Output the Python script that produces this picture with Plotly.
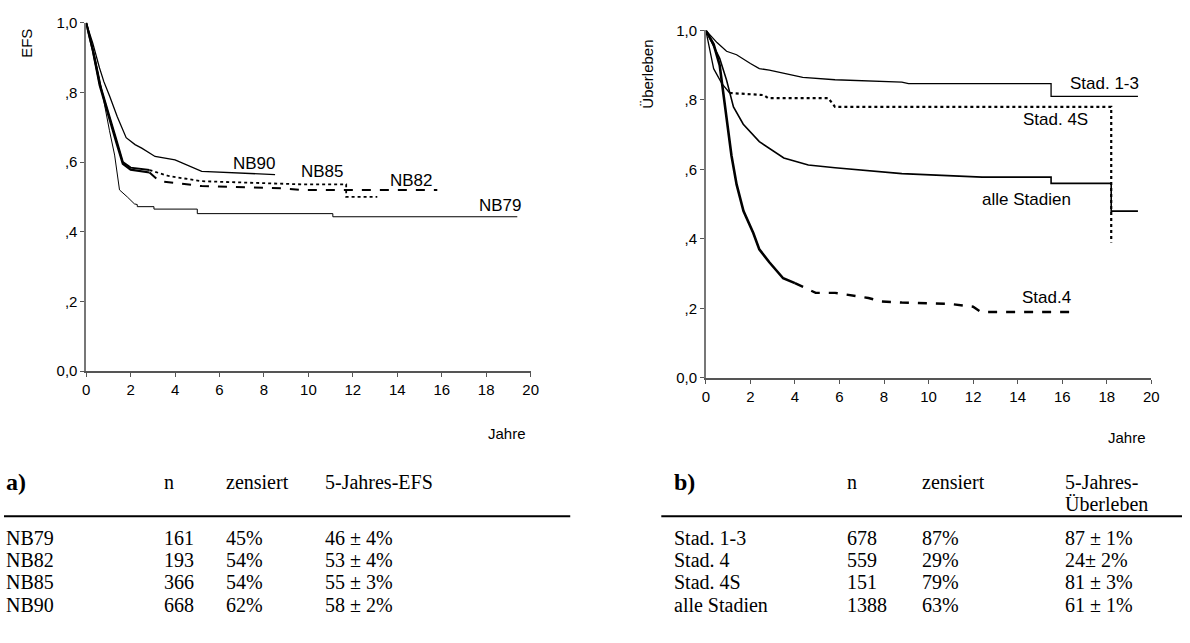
import plotly.graph_objects as go

W, H = 1190, 643

# ---- (a) event-free survival by trial ----
nb79_t = [0, 0.2, 0.4, 0.6, 0.83, 1.05, 1.28, 1.5, 1.85, 2.17, 2.3, 2.3, 3.05, 3.05, 5.0, 5.0, 11.1, 11.1, 19.4]
nb79_s = [1.0, 0.95, 0.9, 0.84, 0.76, 0.69, 0.62, 0.52, 0.50, 0.48, 0.478, 0.472, 0.472, 0.465, 0.465, 0.452, 0.452, 0.443, 0.443]

nb82_t = [0, 0.3, 0.61, 0.9, 1.34, 1.65, 2.0, 2.85, 3.3, 5.2, 8.8, 9.7, 15.8]
nb82_s = [1.0, 0.92, 0.82, 0.755, 0.66, 0.595, 0.578, 0.57, 0.545, 0.531, 0.525, 0.52, 0.52]

nb85_t = [0, 0.3, 0.61, 0.9, 1.34, 1.65, 2.0, 2.85, 3.7, 5.2, 9.7, 11.7, 11.7, 13.1]
nb85_s = [1.0, 0.92, 0.825, 0.76, 0.668, 0.60, 0.584, 0.577, 0.56, 0.545, 0.536, 0.536, 0.50, 0.50]

nb90_t = [0, 0.3, 0.6, 0.8, 1.05, 1.4, 1.8, 2.2, 2.5, 3.1, 4.0, 4.9, 5.2, 8.5]
nb90_s = [1.0, 0.94, 0.87, 0.83, 0.79, 0.73, 0.67, 0.65, 0.64, 0.616, 0.606, 0.58, 0.573, 0.564]

# ---- (b) overall survival by stage ----
st13_t = [0, 0.5, 0.93, 1.38, 2.0, 2.4, 2.85, 3.6, 4.35, 5.8, 8.8, 9.1, 15.5, 15.5, 19.4]
st13_s = [1.0, 0.965, 0.94, 0.93, 0.905, 0.89, 0.886, 0.875, 0.865, 0.858, 0.851, 0.847, 0.847, 0.81, 0.81]

st4s_t = [0, 0.15, 0.35, 0.72, 1.07, 2.6, 2.8, 5.5, 5.8, 18.2, 18.2]
st4s_s = [1.0, 0.95, 0.89, 0.847, 0.82, 0.814, 0.805, 0.805, 0.78, 0.78, 0.39]

alle_t = [0, 0.62, 0.93, 1.24, 1.68, 2.4, 3.5, 4.6, 5.8, 7.3, 8.8, 12.4, 15.5, 15.5, 18.2, 18.2, 19.4]
alle_s = [1.0, 0.92, 0.857, 0.78, 0.73, 0.68, 0.633, 0.613, 0.605, 0.597, 0.588, 0.578, 0.578, 0.56, 0.56, 0.48, 0.48]

st4_t = [0, 0.35, 0.62, 0.85, 1.15, 1.38, 1.69, 2.13, 2.4, 2.85, 3.47, 4.0, 4.93, 5.8, 7.3, 7.9, 8.8, 11.0, 12.0, 12.35, 16.4]
st4_s = [1.0, 0.96, 0.9, 0.78, 0.64, 0.557, 0.48, 0.417, 0.37, 0.333, 0.287, 0.273, 0.245, 0.245, 0.23, 0.22, 0.217, 0.213, 0.205, 0.19, 0.19]

# axis ticks
x_ticks = [0, 2, 4, 6, 8, 10, 12, 14, 16, 18, 20]
y_ticks = [0.0, 0.2, 0.4, 0.6, 0.8, 1.0]
y_ticktext = ["0,0", ",2", ",4", ",6", ",8", "1,0"]

# tables
tab_a_header = ["a)", "n", "zensiert", "5-Jahres-EFS"]
tab_a_names = ["NB79", "NB82", "NB85", "NB90"]
tab_a_n = ["161", "193", "366", "668"]
tab_a_cens = ["45%", "54%", "54%", "62%"]
tab_a_efs = ["46 ± 4%", "53 ± 4%", "55 ± 3%", "58 ± 2%"]

tab_b_header = ["b)", "n", "zensiert", "5-Jahres-"]
tab_b_header2 = "Überleben"
tab_b_names = ["Stad. 1-3", "Stad. 4", "Stad. 4S", "alle Stadien"]
tab_b_n = ["678", "559", "151", "1388"]
tab_b_cens = ["87%", "29%", "79%", "63%"]
tab_b_os = ["87 ± 1%", "24± 2%", "81 ± 3%", "61 ± 1%"]

SANS = "Liberation Sans, Arial, sans-serif"
SERIF = "Liberation Serif, Times New Roman, serif"
TAB_SIZE = 20


def px(x):
    return x / W


def py(y):
    return 1 - y / H


fig = go.Figure()


def curve(t, s, split, axes, early, late):
    """Draw a survival curve: first part up to `split` in one style, rest in another."""
    xa, ya = axes
    i = max(k for k, v in enumerate(t) if v <= split)
    fig.add_trace(go.Scatter(x=t[:i + 1], y=s[:i + 1], mode="lines", xaxis=xa, yaxis=ya,
                             line=dict(color="black", **early), showlegend=False, hoverinfo="skip"))
    if i < len(t) - 1:
        fig.add_trace(go.Scatter(x=t[i:], y=s[i:], mode="lines", xaxis=xa, yaxis=ya,
                                 line=dict(color="black", **late), showlegend=False, hoverinfo="skip"))


A = ("x", "y")
B = ("x2", "y2")
curve(nb79_t, nb79_s, 99, A, dict(width=1), dict(width=1))
curve(nb90_t, nb90_s, 99, A, dict(width=1.3), dict(width=1.3))
curve(nb82_t, nb82_s, 2.9, A, dict(width=2.2), dict(width=2, dash="dash"))
curve(nb85_t, nb85_s, 2.9, A, dict(width=2), dict(width=1.8, dash="dot"))

curve(st13_t, st13_s, 99, B, dict(width=1.3), dict(width=1.3))
curve(alle_t, alle_s, 99, B, dict(width=1.6), dict(width=1.6))
curve(st4s_t, st4s_s, 1.07, B, dict(width=1.3), dict(width=2.2, dash="dot"))
curve(st4_t, st4_s, 4.9, B, dict(width=2.6), dict(width=2.4, dash="dash"))

axis_common = dict(range=[0, 20], tickvals=x_ticks, ticks="outside", ticklen=4, tickcolor="#555",
                   showline=True, linecolor="#555", linewidth=1.5, showgrid=False, zeroline=False,
                   tickfont=dict(family=SANS, size=15, color="black"))
yaxis_common = dict(range=[0, 1], tickvals=y_ticks, ticktext=y_ticktext, ticks="outside", ticklen=4,
                    tickcolor="#555", showline=True, linecolor="#777", linewidth=1.5, showgrid=False,
                    zeroline=False, tickfont=dict(family=SANS, size=15, color="black"))

fig.update_layout(
    width=W, height=H, margin=dict(l=0, r=0, t=0, b=0),
    paper_bgcolor="white", plot_bgcolor="white",
    xaxis=dict(domain=[px(83), px(532)], anchor="y", **axis_common),
    yaxis=dict(domain=[py(372), py(14)], anchor="x", **yaxis_common),
    xaxis2=dict(domain=[px(709), px(1159)], anchor="y2", **axis_common),
    yaxis2=dict(domain=[py(379), py(22)], anchor="x2", **yaxis_common),
)

ann = []


def text(x, y, s, size=15, family=SANS, xanchor="center", xref="paper", yref="paper", **kw):
    ann.append(dict(x=x, y=y, text=s, showarrow=False, xref=xref, yref=yref, xanchor=xanchor,
                    yanchor="middle", font=dict(family=family, size=size, color="black"), **kw))


# axis titles
text(px(22), py(35), "EFS", textangle=-90)
text(px(650), py(67), "Überleben", textangle=-90)
text(px(508), py(436), "Jahre")
text(px(1134), py(440), "Jahre")

# curve labels
text(7.57, 0.595, "NB90", xref="x", yref="y", size=17)
text(10.65, 0.572, "NB85", xref="x", yref="y", size=17)
text(14.65, 0.547, "NB82", xref="x", yref="y", size=17)
text(18.66, 0.475, "NB79", xref="x", yref="y", size=17)
text(17.9, 0.846, "Stad. 1-3", xref="x2", yref="y2", size=17)
text(15.7, 0.745, "Stad. 4S", xref="x2", yref="y2", size=17)
text(14.4, 0.513, "alle Stadien", xref="x2", yref="y2", size=17)
text(15.3, 0.232, "Stad.4", xref="x2", yref="y2", size=17)

# tables
row_y = [543, 566, 589, 612]
cols_a = [0, 160, 222, 322]
cols_b = [675, 850, 925, 1070]

for j, h in enumerate(tab_a_header):
    s = f"<b>{h}</b>" if j == 0 else h
    text(px(cols_a[j]), py(486), s, size=24 if j == 0 else TAB_SIZE, family=SERIF, xanchor="left")
for j, h in enumerate(tab_b_header):
    s = f"<b>{h}</b>" if j == 0 else h
    text(px(cols_b[j]), py(486), s, size=24 if j == 0 else TAB_SIZE, family=SERIF, xanchor="left")
text(px(cols_b[3]), py(508), tab_b_header2, size=TAB_SIZE, family=SERIF, xanchor="left")

for i in range(4):
    for j, col in enumerate([tab_a_names, tab_a_n, tab_a_cens, tab_a_efs]):
        text(px(cols_a[j]), py(row_y[i]), col[i], size=TAB_SIZE, family=SERIF, xanchor="left")
    for j, col in enumerate([tab_b_names, tab_b_n, tab_b_cens, tab_b_os]):
        text(px(cols_b[j]), py(row_y[i]), col[i], size=TAB_SIZE, family=SERIF, xanchor="left")

fig.update_layout(annotations=ann, shapes=[
    dict(type="line", xref="paper", yref="paper", x0=0, x1=px(572), y0=py(521), y1=py(521),
         line=dict(color="black", width=2)),
    dict(type="line", xref="paper", yref="paper", x0=px(664), x1=1, y0=py(521), y1=py(521),
         line=dict(color="black", width=2)),
])

fig.write_html("out.html")
